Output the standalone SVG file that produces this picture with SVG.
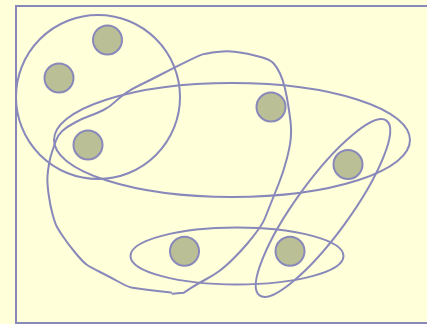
<svg xmlns="http://www.w3.org/2000/svg" width="427" height="324" viewBox="0 0 427 324">
<style>
.ln{fill:none;stroke:#8888bb;stroke-width:2;stroke-linejoin:round;stroke-linecap:round}
.nd{fill:#bbbf95;stroke:#8888bb;stroke-width:2}
</style>
<rect x="0" y="0" width="427" height="324" fill="#ffffd9"/>
<rect x="16" y="6" width="420" height="317" fill="none" stroke="#8888bb" stroke-width="2"/>
<g id="connectors">
<circle class="ln" cx="98" cy="97" r="82"/>
<ellipse class="ln" cx="232" cy="140" rx="178" ry="57"/>
<ellipse class="ln" cx="237" cy="256" rx="106.5" ry="28.5"/>
<ellipse class="ln" cx="323" cy="208" rx="108" ry="27" transform="rotate(-54 323 208)"/>
<path class="ln" d="M172.5,293.7 L183.5,292.8 L190.75,288.15 Q198,283.5 206,279.25 Q214,275 220,270.5 Q226,266 233.5,258.5 Q241,251 247,244 Q253,237 258,230 Q263,223 265,218 Q267,213 271,203 Q275,193 279,183 Q283,173 286.5,160 Q290,147 290.75,138.5 Q291.5,130 290.75,123.5 Q290,117 288.5,107 Q287,97 285,88.5 Q283,80 280,73.5 Q277,67 273.5,63.25 Q270,59.5 261.5,57.25 Q253,55 247.5,53.85 Q242,52.7 234.5,51.7 Q227,50.7 217,52 Q207,53.3 203.5,54.15 Q200,55 186.5,61.65 Q173,68.3 160,75 Q147,81.7 140,85 Q133,88.3 126.5,92.65 Q120,97 115,101.85 Q110,106.7 103.5,110 Q97,113.3 90,115.8 Q83,118.3 75,122.5 Q67,126.7 62.5,130.85 Q58,135 56,140.5 Q54,146 52,152 Q50,158 49,164 Q48,170 47.5,176 Q47,182 48.5,193.5 Q50,205 52.5,214 Q55,223 56.5,226 Q58,229 63,236.5 Q68,244 75.5,253 Q83,262 86.5,264.5 Q90,267 100,272 Q110,277 119,282 Q128,287 132.5,287.85 Q137,288.7 145,289.5 Q153,290.3 162,291.4 L171,292.5"/>
</g>
<g id="n1"><circle class="nd" cx="107.5" cy="40" r="14.5"/></g>
<g id="n2"><circle class="nd" cx="59" cy="78" r="14.5"/></g>
<g id="n3"><circle class="nd" cx="88" cy="145" r="14.5"/></g>
<g id="n4"><circle class="nd" cx="271" cy="107" r="14.5"/></g>
<g id="n5"><circle class="nd" cx="348" cy="164.5" r="14.5"/></g>
<g id="n6"><circle class="nd" cx="184.5" cy="251.3" r="14.5"/></g>
<g id="n7"><circle class="nd" cx="290" cy="251.3" r="14.5"/></g>
</svg>
